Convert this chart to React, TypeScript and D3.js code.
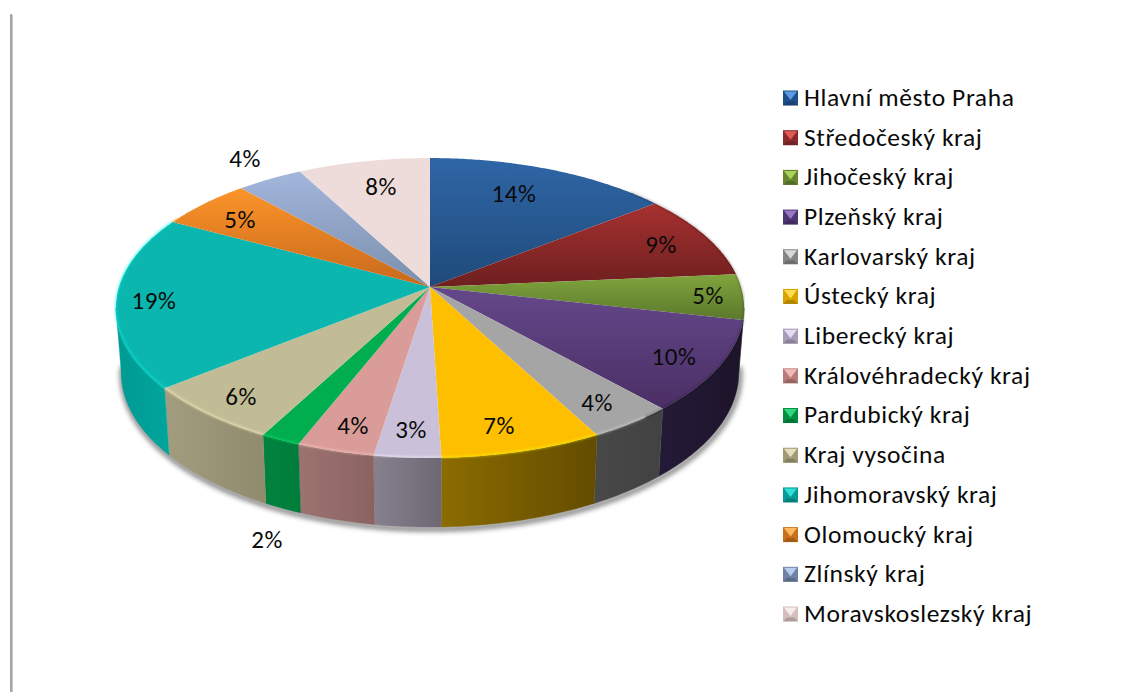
import React from "react";
import * as d3 from "d3";

const categories = ["Hlavní město Praha","Středočeský kraj","Jihočeský kraj","Plzeňský kraj","Karlovarský kraj","Ústecký kraj","Liberecký kraj","Královéhradecký kraj","Pardubický kraj","Kraj vysočina","Jihomoravský kraj","Olomoucký kraj","Zlínský kraj","Moravskoslezský kraj"];
const values = [14.4,9.2,4.9,9.8,3.9,7.3,3.0,3.5,1.8,6.4,18.6,5.5,3.9,7.8];
const percentLabels = ["14%","9%","5%","10%","4%","7%","3%","4%","2%","6%","19%","5%","4%","8%"];
const topLight = ["#2f66a6","#a63130","#80a53d","#65488a","#a5a5a5","#fdbf00","#cbc0da","#d99c98","#00ae4f","#c1bc95","#0ab6ae","#fb9429","#a3b6dc","#eedcda"];
const topDark = ["#1f4a7a","#6e1f1f","#5c782b","#4a2e64","#a5a5a5","#fdbf00","#cbc0da","#d99c98","#00ae4f","#c1bc95","#0ab6ae","#c8691d","#7a8eac","#eedcda"];
const markerBase = ["#1f4f8a","#8a2a2a","#66852f","#4f3572","#858585","#d9a300","#a89cb8","#b87d7a","#008f41","#a09b76","#069a94","#c9701e","#6e82a6","#d4bfbd"];
const markerLight = ["#5b9be0","#e05a58","#a8d05a","#9a78c8","#d8d8d8","#ffdc50","#e4dcf0","#f0bcb8","#30d880","#e4dfba","#30e0d6","#ffb860","#b8ccf0","#f8ecea"];
const wallLight = ["#1f4a7a","#6e1f1f","#4a5f22","#241a38","#484848","#8c6c00","#87818f","#9d7370","#00833f","#a39d7f","#009a92","#a85c18","#6a7a94","#a89a98"];
const wallDark = ["#1f4a7a","#6e1f1f","#3c4e1b","#1d142a","#424242","#624c00","#6e6874","#8a6361","#007c3a","#918b6d","#00a59c","#a85c18","#6a7a94","#a89a98"];
const labelPos: [number, number][] = [[514,193],[661,244],[708,295],[674,356],[597,402],[499,425],[411,429],[353,425],[267,539],[241,396],[154,300],[240,219],[245,158],[381,186]];
const legendRows = d3.range(categories.length);

const W = 1123, H = 692;
const cx = 430, apexY = 287, R = 311, A = 147, K = 0.14;
const wallS = 0.983, wallApex = 351, wallSy = 1.03;
const FONT = "Carlito, Calibri, Lato, 'Noto Sans', sans-serif";

const project = (a: number): [number, number] => {
  const u = Math.sin(a), v = -Math.cos(a), w = 1 - K * v;
  return [cx + (R * u) / w, apexY + (A * v) / w];
};
const wallPt = (a: number): [number, number] => {
  const [x, y] = project(a);
  return [cx + wallS * (x - cx), wallApex + wallSy * (y - apexY)];
};
const samples = (a0: number, a1: number) => {
  const n = Math.max(2, Math.ceil(Math.abs(a1 - a0) / 0.01));
  return d3.range(n + 1).map((i) => a0 + ((a1 - a0) * i) / n);
};
const line = d3.line<[number, number]>();

const pie = d3.pie<number>().sort(null).value((d) => d);
const arcs = pie(values);
const deg = (d: number) => (d / 180) * Math.PI;
const VIS0 = deg(98), VIS1 = deg(262);

const topPath = (a0: number, a1: number) =>
  line([[cx, apexY], ...samples(a0, a1).map(project)]) + "Z";
const wallPath = (a0: number, a1: number) =>
  line([...samples(a0, a1).map(project), ...samples(a1, a0).map(wallPt)]) + "Z";
const rimPath = (a0: number, a1: number) => line(samples(a0, a1).map(project)) || "";

export default function App() {
  const legendY = d3.scalePoint<number>().domain(legendRows).range([97, 613]);
  const shadow = line(samples(VIS0 - 0.05, VIS1 + 0.05).map(wallPt)) || "";
  return (
    <svg width={W} height={H} style={{ position: "absolute", left: 0, top: 0, background: "#fff" }}>
      <defs>
        <filter id="soft" x="-10%" y="-10%" width="120%" height="120%"><feGaussianBlur stdDeviation="2.5" /></filter>
        <filter id="rim" x="-5%" y="-5%" width="110%" height="110%"><feGaussianBlur stdDeviation="0.8" /></filter>
        {categories.map((_, i) => (
          <React.Fragment key={i}>
            <linearGradient id={`t${i}`} x1="0" y1="0" x2="0" y2="1">
              <stop offset="0" stopColor={topLight[i]} />
              <stop offset="1" stopColor={topDark[i]} />
            </linearGradient>
            <linearGradient id={`w${i}`} x1="0" y1="0" x2="1" y2="0">
              <stop offset="0" stopColor={wallLight[i]} />
              <stop offset="1" stopColor={wallDark[i]} />
            </linearGradient>
          </React.Fragment>
        ))}
      </defs>
      <rect x={10} y={14} width={2} height={678} fill="#a6a6a6" />
      <rect x={12} y={15} width={1} height={677} fill="#c8c8c8" />
      <path d={shadow} fill="none" stroke="#000" strokeOpacity={0.5} strokeWidth={5} filter="url(#soft)" transform="translate(1,2)" />
      {arcs.map((d, i) => {
        const a0 = Math.max(d.startAngle, VIS0), a1 = Math.min(d.endAngle, VIS1);
        return a1 > a0 ? <path key={i} d={wallPath(a0, a1)} fill={`url(#w${i})`} stroke={`url(#w${i})`} strokeWidth={0.4} /> : null;
      })}
      {arcs.map((d, i) => (
        <path key={i} d={topPath(d.startAngle, d.endAngle)} fill={`url(#t${i})`} />
      ))}
      {arcs.map((d, i) => {
        const a0 = Math.max(d.startAngle, deg(142)), a1 = Math.min(d.endAngle, deg(300));
        return a1 > a0 ? <path key={i} d={rimPath(a0, a1)} fill="none" stroke={d3.color(topLight[i])!.brighter(0.8).formatHex()} strokeOpacity={0.55} strokeWidth={1.8} transform="translate(0,-0.5)" filter="url(#rim)" /> : null;
      })}
      {arcs.map((d, i) => {
        const a0 = Math.max(d.startAngle, deg(45)), a1 = Math.min(d.endAngle, deg(142));
        return a1 > a0 ? <path key={i} d={rimPath(a0, a1)} fill="none" stroke="#000" strokeOpacity={0.22} strokeWidth={2} filter="url(#rim)" /> : null;
      })}
      {percentLabels.map((t, i) => (
        <text key={i} x={labelPos[i][0]} y={labelPos[i][1]} dy="0.35em" textAnchor="middle" fontFamily={FONT} fontSize={25} letterSpacing={0.6} fill="#0a0a0a">{t}</text>
      ))}
      {categories.map((c, i) => {
        const y = legendY(i)!;
        const x0 = 783, s = 15, b = 4;
        const top = y - s / 2 + 1, bot = y + s / 2 + 1, mid = y + 1;
        return (
          <g key={c}>
            <rect x={x0} y={top} width={s} height={s} fill={markerBase[i]} />
            <polygon points={`${x0 + 1},${top + 1} ${x0 + s - 1},${top + 1} ${x0 + s / 2},${mid + 2}`} fill={markerLight[i]} />
            <polygon points={`${x0},${bot} ${x0 + s},${bot} ${x0 + s - b},${bot - b} ${x0 + b},${bot - b}`} fill="#000" fillOpacity={0.18} />
            <text x={804} y={y} dy="0.35em" fontFamily={FONT} fontSize={25.5} letterSpacing={0.6} fill="#0a0a0a">{c}</text>
          </g>
        );
      })}
    </svg>
  );
}
